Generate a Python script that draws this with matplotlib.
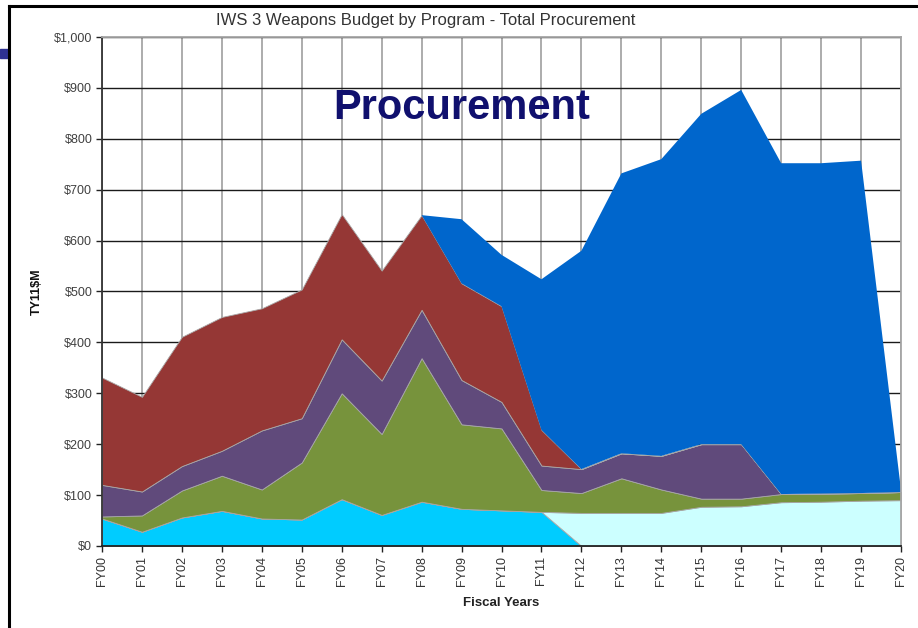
import numpy as np
import matplotlib.pyplot as plt
from matplotlib.patches import Rectangle
from matplotlib.lines import Line2D

plt.rcParams['font.family'] = ['Liberation Sans', 'DejaVu Sans']

# Fiscal years FY00..FY20
years = ['FY%02d' % i for i in range(21)]

# Stacked program budgets (TY11 $M), bottom to top
cyan = [54, 28, 56, 69, 54, 52, 92, 61, 87, 73, 70, 67, 0, 0, 0, 0, 0, 0, 0, 0, 0]
light_cyan = [0, 0, 0, 0, 0, 0, 0, 0, 0, 0, 0, 0, 65, 65, 65, 77, 78, 86, 87, 89, 90]
green = [4, 32, 53, 69, 57, 112, 208, 159, 282, 166, 161, 43, 39, 68, 46, 16, 15, 16, 16, 15, 16]
purple = [62, 47, 48, 49, 116, 87, 106, 105, 95, 87, 52, 48, 47, 49, 66, 107, 107, 0, 0, 0, 0]
red = [211, 186, 254, 263, 240, 253, 246, 216, 186, 190, 188, 70, 0, 0, 0, 0, 0, 0, 0, 0, 0]
blue = [0, 0, 0, 0, 0, 0, 0, 0, 0, 126, 101, 296, 429, 550, 583, 649, 696, 650, 649, 653, 4]

colors = ['#00CCFF', '#CCFFFF', '#77933C', '#604A7B', '#953735', '#0066CC']
y_ticks = [0, 100, 200, 300, 400, 500, 600, 700, 800, 900, 1000]
y_labels = ['$0', '$100', '$200', '$300', '$400', '$500', '$600', '$700', '$800', '$900', '$1,000']

fig = plt.figure(figsize=(9.18, 6.28), dpi=100)
ax = fig.add_axes([0.1111, 0.1306, 0.8704, 0.8105])

x = np.arange(len(years))
polys = ax.stackplot(x, cyan, light_cyan, green, purple, red, blue, colors=colors)
for p, c in zip(polys, colors):
    if c == '#0066CC':
        p.set_linewidth(0)
    else:
        p.set_edgecolor('#A8A8A8')
        p.set_linewidth(0.6)

ax.set_xlim(0, 20)
ax.set_ylim(0, 1000)
ax.set_xticks(x)
ax.set_xticklabels(years, rotation=90, fontsize=9, color='#333333')
ax.set_yticks(y_ticks)
ax.set_yticklabels(y_labels, fontsize=9, color='#404040')
ax.tick_params(axis='both', direction='out', length=4, width=1, color='#222222', pad=3)

ax.set_axisbelow(True)
ax.grid(axis='x', color='#A6A6A6', linewidth=1.3)
ax.grid(axis='y', color='#1A1A1A', linewidth=1)

ax.spines['left'].set_color('#333333')
ax.spines['bottom'].set_color('#222222')
ax.spines['top'].set_color('#A6A6A6')
ax.spines['right'].set_color('#A6A6A6')
for s in ax.spines.values():
    s.set_linewidth(1.3)

ax.set_xlabel('Fiscal Years', fontsize=9.5, fontweight='bold', color='#222222', labelpad=8)
ax.set_ylabel('TY11$M', fontsize=9, fontweight='bold', color='#111111', labelpad=8)
fig.text(0.464, 0.9666, 'IWS 3 Weapons Budget by Program - Total Procurement', fontsize=12,
         color='#333333', ha='center', va='center')

ax.text(0.45, 0.86, 'Procurement', transform=ax.transAxes, fontsize=30,
        fontweight='bold', color='#10106E', ha='center', va='center')

# slide frame and marker
fig.add_artist(Line2D([0.0095, 1.0], [0.9904, 0.9904], color='black', linewidth=2.2))
fig.add_artist(Line2D([0.0095, 0.0095], [0.0, 0.9904], color='black', linewidth=2.2))
fig.add_artist(Rectangle((0.0, 0.907), 0.009, 0.015, color='#2E3192', transform=fig.transFigure))

fig.savefig('out.png', dpi=100)
